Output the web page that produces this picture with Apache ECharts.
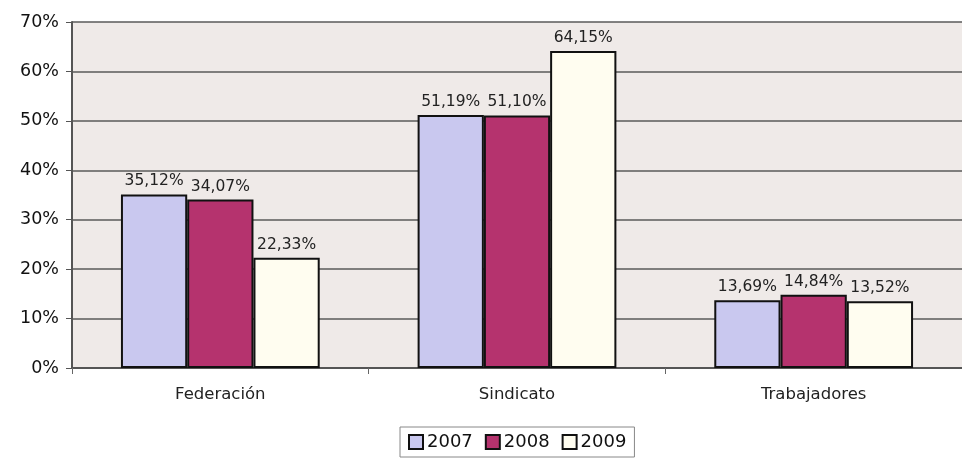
<!DOCTYPE html>
<html>
<head>
<meta charset="utf-8">
<script src="https://cdn.jsdelivr.net/npm/echarts@6/dist/echarts.min.js"></script>
<style>
html,body{margin:0;padding:0;background:#fff;}
#c{width:962px;height:462px;}
</style>
</head>
<body>
<div id="c"></div>
<script>
var categories = ['Federación', 'Sindicato', 'Trabajadores'];
var seriesNames = ['2007', '2008', '2009'];
var values2007 = [35.12, 51.19, 13.69];
var values2008 = [34.07, 51.10, 14.84];
var values2009 = [22.33, 64.15, 13.52];
var yTicks = [0, 10, 20, 30, 40, 50, 60, 70];
var colors = ['#c9c8ef', '#b5336e', '#fffdf0'];
var FONT = 'DejaVu Sans, Liberation Sans, Arial, sans-serif';

function fmt(v){ return v.toFixed(2).replace('.', ',') + '%'; }

var chart = echarts.init(document.getElementById('c'), null, {renderer:'canvas'});
var allValues = [values2007, values2008, values2009];
var series = seriesNames.map(function(n, i){
  return {
    name: n,
    type: 'bar',
    data: allValues[i],
    barGap: '0%',
    barCategoryGap: '33%',
    itemStyle: {color: colors[i], borderColor: '#111', borderWidth: 2},
    label: {
      show: true, position: 'top', distance: 5,
      color: '#222', fontFamily: FONT, fontSize: 15.5,
      formatter: function(p){ return fmt(p.value); }
    }
  };
});

chart.setOption({
  animation: false,
  backgroundColor: '#ffffff',
  legend: {
    data: seriesNames,
    bottom: 5,
    left: 400,
    itemWidth: 14,
    itemHeight: 14,
    itemGap: 12,
    icon: 'rect',
    padding: [6, 8, 6, 8],
    borderColor: '#888',
    borderWidth: 1,
    textStyle: {fontFamily: FONT, fontSize: 18, color: '#111', padding: [0,0,0,-1]},
    itemStyle: {borderColor: '#111', borderWidth: 2}
  },
  grid: {
    left: 72, right: -3, top: 22, bottom: 94,
    show: true, backgroundColor: '#efeae8', borderWidth: 0
  },
  xAxis: {
    type: 'category',
    data: categories,
    axisLine: {lineStyle: {color: '#555', width: 2}},
    axisTick: {show: true, length: 6, lineStyle: {color: '#666'}, alignWithLabel: false},
    axisLabel: {fontFamily: FONT, fontSize: 16.5, color: '#222', margin: 18}
  },
  yAxis: {
    type: 'value',
    min: yTicks[0], max: yTicks[yTicks.length-1], interval: 10,
    axisLine: {show: true, lineStyle: {color: '#555', width: 2}},
    axisTick: {show: true, length: 6, lineStyle: {color: '#555'}},
    splitLine: {show: true, lineStyle: {color: '#5a5a5a', width: 1.5}},
    axisLabel: {fontFamily: FONT, fontSize: 17.5, color: '#111', margin: 13,
      formatter: function(v){ return v + '%'; }}
  },
  series: series
});
</script>
</body>
</html>
